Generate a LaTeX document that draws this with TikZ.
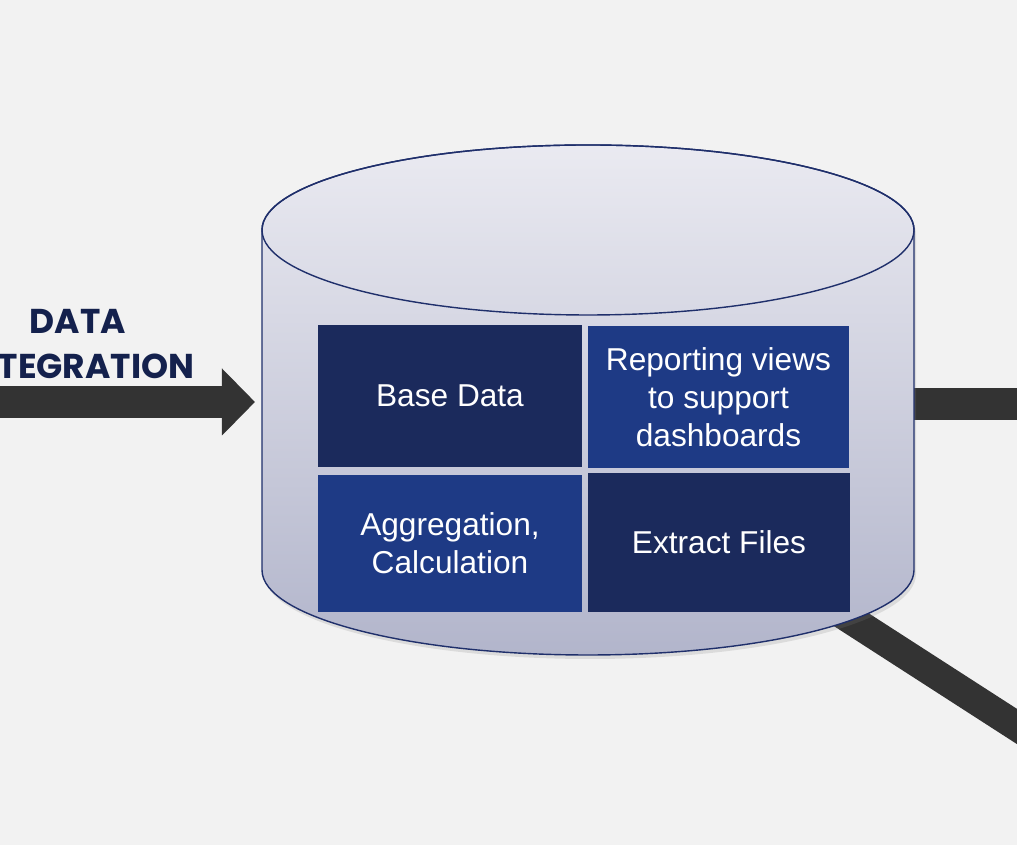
\documentclass[tikz,border=0pt]{standalone}
\usepackage{fontspec}
\setmainfont{Liberation Sans}
\newfontfamily\headfont{Poppins}
\usetikzlibrary{arrows.meta,shadows}
\definecolor{pagebg}{HTML}{F2F2F2}
\definecolor{pipegray}{HTML}{333333}
\definecolor{headnavy}{HTML}{14214D}
\definecolor{darkbox}{HTML}{1B2A5C}
\definecolor{midbox}{HTML}{1E3A85}
\definecolor{dbline}{HTML}{1F2F6B}
\definecolor{dbtop}{HTML}{EAEAF1}
\definecolor{dbbottom}{HTML}{B2B5CB}

\begin{document}
\begin{tikzpicture}[x=0.025cm, y=0.025cm,
    tile/.style={rectangle, text=white, align=center, inner sep=0pt, font=\fontsize{22.5}{27}\selectfont},
    pipe/.style={line width=0.8cm, draw=pipegray}]
    \useasboundingbox (0,0) rectangle (1017,845);
    \fill[pagebg] (0,0) rectangle (1017,845);
    \clip (0,0) rectangle (1017,845);

    % pipes going out behind the database
    \coordinate (hub-r) at (588,441);
    \coordinate (out-r) at (1060,441);
    \coordinate (hub-d) at (588,395);
    \coordinate (out-d) at (1100,65);
    \draw[pipe] (hub-r) -- (out-r);
    \draw[pipe, line width=0.74cm] (hub-d) -- (out-d);

    % data integration arrow
    \coordinate (in) at (-10,443);
    \coordinate (db-in) at (255,443);
    \draw[pipe, -{Triangle[length=0.825cm, width=1.625cm]}] (in) -- (db-in);
    \node[font=\headfont\bfseries\fontsize{24.5}{32}\selectfont, text=headnavy, align=center] (title) at (78,501) {DATA\\INTEGRATION};

    % database
    \draw[dbline, line width=1pt, top color=dbtop, bottom color=dbbottom,
          drop shadow={opacity=0.2, shadow xshift=0.05cm, shadow yshift=-0.1cm}]
      (262,615) -- (262,275) arc[start angle=180, end angle=360, x radius=326, y radius=85]
      -- (914,615) arc[start angle=0, end angle=180, x radius=326, y radius=85] -- cycle;
    \draw[dbline, line width=1pt] (588,615) ellipse [x radius=326, y radius=85];

    \node[tile, fill=darkbox, minimum width=6.6cm, minimum height=3.55cm] (base) at (450,449) {Base Data};
    \node[tile, fill=midbox, minimum width=6.525cm, minimum height=3.55cm] (views) at (718.5,448) {Reporting views\\to support\\dashboards};
    \node[tile, fill=midbox, minimum width=6.6cm, minimum height=3.425cm] (aggr) at (450,301.5) {Aggregation,\\Calculation};
    \node[tile, fill=darkbox, minimum width=6.55cm, minimum height=3.475cm] (extract) at (719,302.5) {Extract Files};
\end{tikzpicture}
\end{document}
